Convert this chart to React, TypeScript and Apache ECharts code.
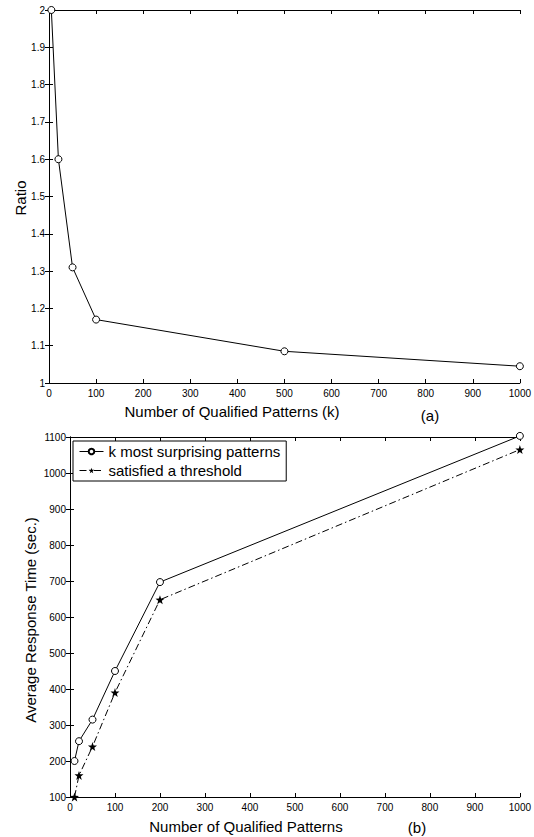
import React, { useEffect, useRef } from "react";
import * as echarts from "echarts";

const ratioK = [5, 20, 50, 100, 500, 1000];
const ratioValues = [2.0, 1.6, 1.31, 1.17, 1.085, 1.045];

const timeK = [10, 20, 50, 100, 200, 1000];
const surprisingTimes = [200, 255, 315, 450, 697, 1103];
const thresholdTimes = [100, 160, 240, 390, 648, 1065];

const seriesNames = ["k most surprising patterns", "satisfied a threshold"];

const STAR =
  "path://M0,-10L2.35,-3.24L9.51,-3.09L3.8,1.24L5.88,8.09L0,4L-5.88,8.09L-3.8,1.24L-9.51,-3.09L-2.35,-3.24Z";

const FONT = "Liberation Sans, Arial, Helvetica, sans-serif";

export default function App() {
  const ref = useRef<HTMLDivElement>(null);
  useEffect(() => {
    document.body.style.margin = "0";
    if (!ref.current) return;
    const chart = echarts.init(ref.current, null, { renderer: "svg" });
    const axisLine = { show: true, lineStyle: { color: "#000", width: 1 } };
    const tickIn = { show: true, inside: true, length: 4, lineStyle: { color: "#000" } };
    const lbl = { color: "#000", fontSize: 10, fontFamily: FONT };
    const plain = (v: number) => String(Math.round(v * 10) / 10);
    const xBase = (gridIndex: number) => ({
      type: "value",
      gridIndex,
      min: 0,
      max: 1000,
      interval: 100,
      position: "bottom",
      axisLine,
      axisTick: tickIn,
      axisLabel: { ...lbl, margin: 5, formatter: plain },
      splitLine: { show: false },
    });
    const xTop = (gridIndex: number) => ({
      type: "value",
      gridIndex,
      min: 0,
      max: 1000,
      interval: 100,
      position: "top",
      axisLine,
      axisTick: tickIn,
      axisLabel: { show: false },
      splitLine: { show: false },
    });
    const yAx = (gridIndex: number, min: number, max: number, interval: number, right: boolean) => ({
      type: "value",
      gridIndex,
      min,
      max,
      interval,
      position: right ? "right" : "left",
      axisLine,
      axisTick: tickIn,
      axisLabel: right ? { show: false } : { ...lbl, margin: 4, formatter: plain },
      splitLine: { show: false },
    });
    const txt = (text: string, x: number, y: number, rotate = false) => ({
      type: "text",
      x,
      y,
      rotation: rotate ? Math.PI / 2 : 0,
      style: {
        text,
        fill: "#000",
        fontSize: 15,
        fontFamily: FONT,
        textAlign: "center",
        textVerticalAlign: "middle",
      },
    });
    const option: any = {
      animation: false,
      backgroundColor: "#fff",
      grid: [
        { left: 49, top: 10, width: 474, height: 373 },
        { left: 70, top: 437, width: 457, height: 360 },
      ],
      xAxis: [xBase(0), xTop(0), xBase(1), xTop(1)],
      yAxis: [
        yAx(0, 1, 2, 0.1, false),
        yAx(0, 1, 2, 0.1, true),
        yAx(1, 100, 1100, 100, false),
        yAx(1, 100, 1100, 100, true),
      ],
      legend: {
        left: 73,
        top: 441,
        orient: "vertical",
        backgroundColor: "#fff",
        borderColor: "#000",
        borderWidth: 1,
        borderRadius: 0,
        padding: [3, 6, 3, 6],
        itemGap: 4,
        itemWidth: 24,
        itemHeight: 7,
        lineStyle: { width: 1 },
        textStyle: { color: "#000", fontSize: 15, fontFamily: FONT },
        data: seriesNames,
      },
      series: [
        {
          type: "line",
          xAxisIndex: 0,
          yAxisIndex: 0,
          clip: false,
          data: ratioK.map((k, i) => [k, ratioValues[i]]),
          symbol: "circle",
          symbolSize: 7,
          lineStyle: { color: "#000", width: 1 },
          itemStyle: { color: "#fff", borderColor: "#000", borderWidth: 1 },
        },
        {
          name: seriesNames[0],
          type: "line",
          xAxisIndex: 2,
          yAxisIndex: 2,
          clip: false,
          data: timeK.map((k, i) => [k, surprisingTimes[i]]),
          symbol: "circle",
          symbolSize: 7,
          lineStyle: { color: "#000", width: 1 },
          itemStyle: { color: "#fff", borderColor: "#000", borderWidth: 1 },
        },
        {
          name: seriesNames[1],
          type: "line",
          xAxisIndex: 2,
          yAxisIndex: 2,
          clip: false,
          data: timeK.map((k, i) => [k, thresholdTimes[i]]),
          symbol: STAR,
          symbolSize: 9,
          lineStyle: { color: "#000", width: 1, type: [7, 3, 1.5, 3] },
          itemStyle: { color: "#000", borderColor: "#000", borderWidth: 0 },
        },
      ],
      graphic: [
        txt("Number of Qualified Patterns (k)", 232, 411),
        txt("(a)", 430, 415),
        txt("Ratio", 20, 198, true),
        txt("Number of Qualified Patterns", 246, 826),
        txt("(b)", 417, 827),
        txt("Average Response Time (sec.)", 30, 620, true),
      ],
    };
    chart.setOption(option);
    return () => chart.dispose();
  }, []);
  return <div ref={ref} style={{ width: 534, height: 837 }} />;
}
